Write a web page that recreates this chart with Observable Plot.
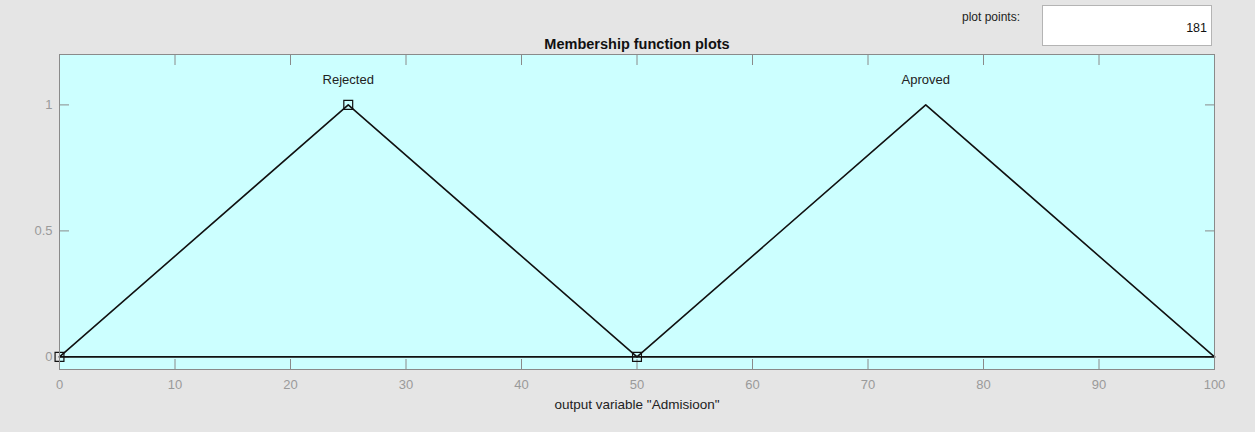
<!DOCTYPE html>
<html><head><meta charset="utf-8">
<script src="https://cdn.jsdelivr.net/npm/d3@7"></script>
<script src="https://cdn.jsdelivr.net/npm/@observablehq/plot@0.6"></script>
<style>
html,body{margin:0;padding:0;background:#e5e5e5;}
#wrap{position:relative;width:1255px;height:432px;font-family:"Liberation Sans",Arial,sans-serif;}
#pp{position:absolute;left:962px;top:10px;font-size:12px;color:#222;}
#box{position:absolute;left:1042px;top:5px;width:168px;height:39px;background:#fff;border:1px solid #b4b4b4;box-sizing:content-box;}
#box span{position:absolute;right:4px;top:15px;font-size:12.5px;color:#111;}
#chart{position:absolute;left:0;top:0;}
</style></head>
<body>
<div id="wrap">
  <div id="chart"></div>
  <div id="pp">plot points:</div>
  <div id="box"><span id="ppv"></span></div>
</div>
<script>
const mfNames = ["Rejected", "Aproved"];
const mfA = [0, 50];
const mfB = [25, 75];
const mfC = [50, 100];
const rangeX = [0, 100];
const xTicks = [0, 10, 20, 30, 40, 50, 60, 70, 80, 90, 100];
const yTicks = [0, 0.5, 1];
const plotPoints = 181;
const selectedMf = 0;
const titleText = "Membership function plots";
const xLabel = 'output variable "Admisioon"';

document.getElementById("ppv").textContent = plotPoints;

// MF curves drawn over full range: triangle params plus range ends
const lines = [];
mfNames.forEach((n, i) => {
  const pts = [[rangeX[0], 0], [mfA[i], 0], [mfB[i], 1], [mfC[i], 0], [rangeX[1], 0]];
  pts.forEach(([x, y]) => lines.push({name: n, x, y}));
});
const markers = [
  {x: mfA[selectedMf], y: 0},
  {x: mfB[selectedMf], y: 1},
  {x: mfC[selectedMf], y: 0}
];
const labels = mfNames.map((n, i) => ({name: n, x: mfB[i], y: 1.1}));

const gray = "#8a8a8a";
const tickText = "#9a9a9a";
const chart = Plot.plot({
  width: 1255, height: 432,
  marginLeft: 59, marginRight: 41, marginTop: 54, marginBottom: 63,
  style: {background: "transparent", fontFamily: "'Liberation Sans', Arial, sans-serif"},
  x: {domain: [0, 100]},
  y: {domain: [-0.05, 1.2]},
  marks: [
    Plot.frame({fill: "#ccffff", stroke: null}),
    // inward ticks
    Plot.axisX(xTicks, {anchor: "bottom", tickSize: 10, insetBottom: 10, fill: "none", stroke: gray, label: null}),
    Plot.axisX(xTicks, {anchor: "top", tickSize: 10, insetTop: 10, fill: "none", stroke: gray, label: null}),
    Plot.axisY(yTicks, {anchor: "left", tickSize: 10, insetLeft: 10, fill: "none", stroke: gray, label: null}),
    Plot.axisY(yTicks, {anchor: "right", tickSize: 10, insetRight: 10, fill: "none", stroke: gray, label: null}),
    // tick labels
    Plot.axisX(xTicks, {anchor: "bottom", tickSize: 0, tickPadding: 10, fill: tickText, fontSize: 13, label: null, tickFormat: d => String(d)}),
    Plot.axisY(yTicks, {anchor: "left", tickSize: 0, tickPadding: 7, fill: tickText, fontSize: 13, label: null, tickFormat: d => String(d)}),
    Plot.line(lines, {x: "x", y: "y", z: "name", stroke: "#111", strokeWidth: 1.6}),
    Plot.dot(markers, {x: "x", y: "y", symbol: "square", r: 5, stroke: "#111", strokeWidth: 1.2, fill: "none"}),
    Plot.text(labels, {x: "x", y: "y", text: "name", fontSize: 13, fill: "#222"}),
    Plot.text([titleText], {frameAnchor: "top", lineAnchor: "bottom", dy: -6, fontSize: 14.5, fontWeight: "bold", fill: "#111"}),
    Plot.text([xLabel], {frameAnchor: "bottom", lineAnchor: "top", dy: 30, fontSize: 13.5, fill: "#222"}),
    Plot.frame({stroke: gray, strokeWidth: 1})
  ]
});
document.getElementById("chart").appendChild(chart);
</script>
</body></html>
